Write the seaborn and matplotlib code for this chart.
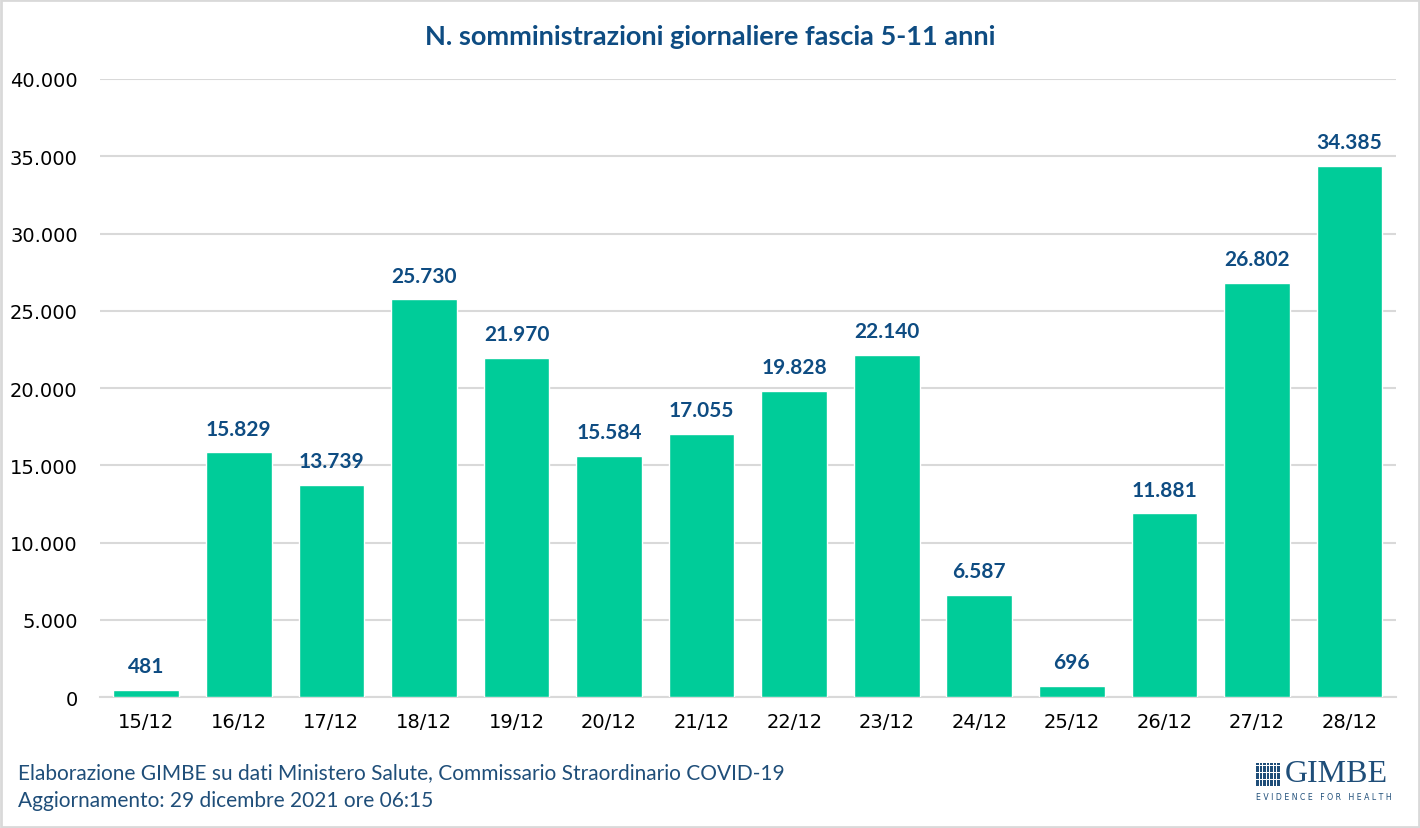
import numpy as np
import pandas as pd
import seaborn as sns
import matplotlib.pyplot as plt
from matplotlib.patches import Rectangle
from matplotlib.ticker import FuncFormatter

giorni = ['15/12', '16/12', '17/12', '18/12', '19/12', '20/12', '21/12',
          '22/12', '23/12', '24/12', '25/12', '26/12', '27/12', '28/12']
somministrazioni = [481, 15829, 13739, 25730, 21970, 15584, 17055,
                    19828, 22140, 6587, 696, 11881, 26802, 34385]
y_ticks = [0, 5000, 10000, 15000, 20000, 25000, 30000, 35000, 40000]

titolo = 'N. somministrazioni giornaliere fascia 5-11 anni'
fonte = 'Elaborazione GIMBE su dati Ministero Salute, Commissario Straordinario COVID-19'
aggiornamento = 'Aggiornamento: 29 dicembre 2021 ore 06:15'

def it_num(v):
    return f'{int(round(v)):,}'.replace(',', '.')

df = pd.DataFrame({'Giorno': giorni, 'Dosi': somministrazioni})

sns.set_style('white')
plt.rcParams['font.family'] = ['DejaVu Sans']

blu = '#0E4C82'
verde = '#00CC99'

fig = plt.figure(figsize=(14.2, 8.29), dpi=100, facecolor='white')
ax = fig.add_axes([0.0704, 0.158, 0.9126, 0.7455])

sns.barplot(data=df, x='Giorno', y='Dosi', color=verde, saturation=1,
            width=0.71, ax=ax, zorder=3)

ax.set_ylim(0, 40000)
ax.set_yticks(y_ticks)
ax.yaxis.set_major_formatter(FuncFormatter(lambda v, p: it_num(v)))
ax.set_xlim(-0.5, len(giorni) - 0.5)
ax.grid(axis='y', color='#D9D9D9', linewidth=1.5, zorder=0)
ax.set_axisbelow(True)
for s in ['top', 'right', 'left']:
    ax.spines[s].set_visible(False)
ax.spines['bottom'].set_color('#D9D9D9')
ax.spines['bottom'].set_linewidth(1.5)
ax.tick_params(axis='both', length=0, labelsize=14, colors='black')
ax.tick_params(axis='y', pad=16)
ax.tick_params(axis='x', pad=11)
ax.set_xlabel('')
ax.set_ylabel('')

for i, v in enumerate(somministrazioni):
    ax.annotate(it_num(v), (i, v), xytext=(0, 10), textcoords='offset points',
                ha='center', va='bottom', fontsize=15, fontweight='bold',
                color=blu, family='Lato')

fig.text(0.5, 0.955, titolo, ha='center', va='center', fontsize=19.5,
         fontweight='bold', color=blu, family='Lato')
fig.text(0.0127, 0.067, fonte, ha='left', va='center', fontsize=15,
         color='#1F4E79', family='Lato')
fig.text(0.0127, 0.034, aggiornamento, ha='left', va='center', fontsize=15,
         color='#1F4E79', family='Lato')

# logo GIMBE
for r in range(7):
    for c in range(7):
        fig.patches.append(Rectangle((0.8845 + c * 0.0025, 0.0505 + r * 0.0042),
                                     0.0019, 0.0033, transform=fig.transFigure,
                                     facecolor='#1F4E79', edgecolor='none'))
fig.text(0.9045, 0.0655, 'GIMBE', ha='left', va='center', fontsize=23,
         color='#1F4E79', family='Liberation Serif')
fig.text(0.8845, 0.0385, 'E V I D E N C E   F O R   H E A L T H', ha='left',
         va='center', fontsize=5.6, color='#1F4E79', family='DejaVu Sans')

# cornice
fig.patches.append(Rectangle((0.0007, 0.0012), 0.9986, 0.9976,
                             transform=fig.transFigure, fill=False,
                             edgecolor='#D9D9D9', linewidth=2))

fig.savefig('out.png', dpi=100, facecolor='white')
